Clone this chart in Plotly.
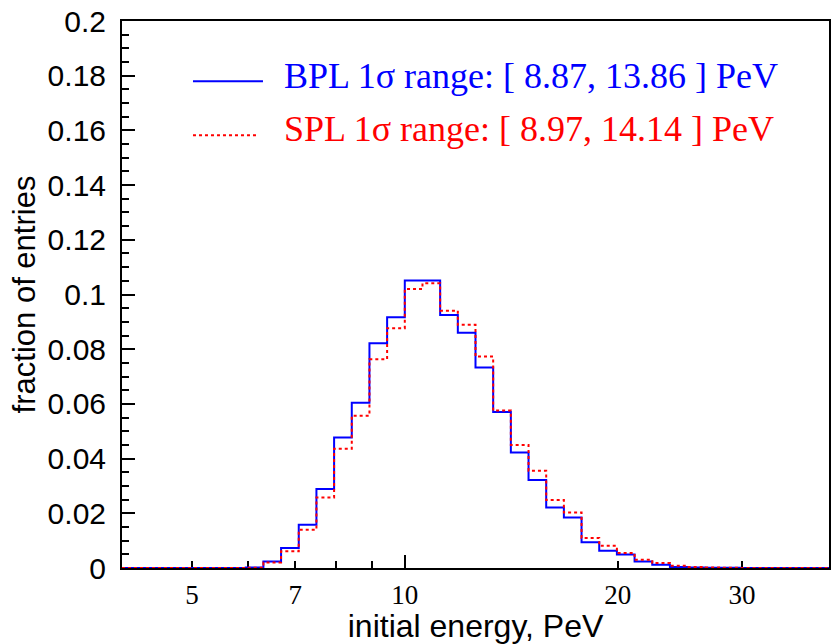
import numpy as np
import plotly.graph_objects as go

# ---- data ----
# 40 logarithmic bins, 0.025 dex wide, from log10(E/PeV) = 0.6 to 1.6
log_e_min = 0.6
bin_width_dex = 0.025

bpl_fraction = [0, 0, 0, 0, 0, 0, 0,
                0.0002, 0.0024, 0.0073, 0.0158, 0.0289, 0.0477, 0.0604,
                0.0822, 0.0917, 0.1051, 0.1051, 0.0925, 0.0860, 0.0733,
                0.0570, 0.0422, 0.0322, 0.0221, 0.0185, 0.0094, 0.0063,
                0.0049, 0.0024, 0.0012, 0.0004, 0.0002, 0.0001, 0.00005,
                0, 0, 0, 0, 0]
spl_fraction = [0, 0, 0, 0, 0, 0, 0,
                0.0001, 0.0020, 0.0061, 0.0140, 0.0258, 0.0436, 0.0557,
                0.0763, 0.0877, 0.1020, 0.1041, 0.0941, 0.0889, 0.0773,
                0.0576, 0.0450, 0.0356, 0.0249, 0.0203, 0.0110, 0.0081,
                0.0055, 0.0030, 0.0018, 0.0008, 0.0004, 0.0002, 0.0001,
                0, 0, 0, 0, 0]

x_tick_vals = [5, 6, 7, 8, 9, 10, 20, 30]
x_tick_text = ["5", "", "7", "", "", "10", "20", "30"]
x_major_tick = [10]

bpl_label = "BPL 1σ range: [ 8.87, 13.86 ] PeV"
spl_label = "SPL 1σ range: [ 8.97, 14.14 ] PeV"

BLUE = "#0000ff"
RED = "#ff0000"

edges = 10 ** (log_e_min + bin_width_dex * np.arange(len(bpl_fraction) + 1))
bpl_step = list(bpl_fraction) + [bpl_fraction[-1]]
spl_step = list(spl_fraction) + [spl_fraction[-1]]

fig = go.Figure()
fig.add_trace(go.Scatter(x=edges, y=bpl_step, mode="lines", name="BPL",
                         line=dict(shape="hv", color=BLUE, width=2),
                         showlegend=False))
fig.add_trace(go.Scatter(x=edges, y=spl_step, mode="lines", name="SPL",
                         xaxis="x2",
                         line=dict(shape="hv", color=RED, width=2, dash="3px,3px"),
                         showlegend=False))

x_range = [log_e_min, log_e_min + bin_width_dex * len(bpl_fraction)]

fig.update_layout(
    width=837, height=644,
    margin=dict(l=122, r=8, t=21, b=76, autoexpand=False),
    paper_bgcolor="white", plot_bgcolor="white",
    xaxis=dict(
        type="log", range=x_range, automargin=False,
        tickvals=x_tick_vals, ticktext=x_tick_text,
        ticks="inside", ticklen=7, tickwidth=1.5, tickcolor="black",
        tickfont=dict(family="Liberation Serif", size=27, color="black"),
        ticklabelstandoff=2,
        showline=True, linewidth=2, linecolor="black", mirror=True,
        showgrid=False, zeroline=False, layer="below traces",
        title=dict(text="initial energy, PeV",
                   font=dict(family="Liberation Sans", size=32, color="black"),
                   standoff=0),
    ),
    xaxis2=dict(
        type="log", range=x_range, overlaying="x", anchor="y", side="bottom",
        tickvals=x_major_tick, showticklabels=False, automargin=False,
        ticks="inside", ticklen=13, tickwidth=1.5, tickcolor="black",
        showline=False, showgrid=False, zeroline=False, layer="below traces",
    ),
    yaxis=dict(
        range=[0, 0.2], tick0=0, dtick=0.02, automargin=False,
        ticks="inside", ticklen=13, tickwidth=1.5, tickcolor="black",
        minor=dict(dtick=0.005, ticks="inside", ticklen=7, tickwidth=1.5,
                   tickcolor="black", showgrid=False),
        tickfont=dict(family="Liberation Sans", size=30, color="black"),
        ticklabelstandoff=8,
        showline=True, linewidth=2, linecolor="black", mirror=True,
        showgrid=False, zeroline=False, layer="below traces",
        title=dict(text="fraction of entries",
                   font=dict(family="Liberation Sans", size=31, color="black"),
                   standoff=3),
    ),
)

# legend drawn as in the original (long line samples, coloured text)
fig.add_shape(type="line", xref="paper", yref="paper",
              x0=0.1004, x1=0.1994, y0=0.8899, y1=0.8899,
              line=dict(color=BLUE, width=2))
fig.add_shape(type="line", xref="paper", yref="paper",
              x0=0.1004, x1=0.1924, y0=0.7913, y1=0.7913,
              line=dict(color=RED, width=2, dash="3px,3px"))
fig.add_annotation(xref="paper", yref="paper", x=0.2263, y=0.9000,
                   xanchor="left", yanchor="middle", showarrow=False,
                   text=bpl_label,
                   font=dict(family="Liberation Serif", size=36, color=BLUE))
fig.add_annotation(xref="paper", yref="paper", x=0.2263, y=0.8030,
                   xanchor="left", yanchor="middle", showarrow=False,
                   text=spl_label,
                   font=dict(family="Liberation Serif", size=36, color=RED))

fig.write_html("out.html")
